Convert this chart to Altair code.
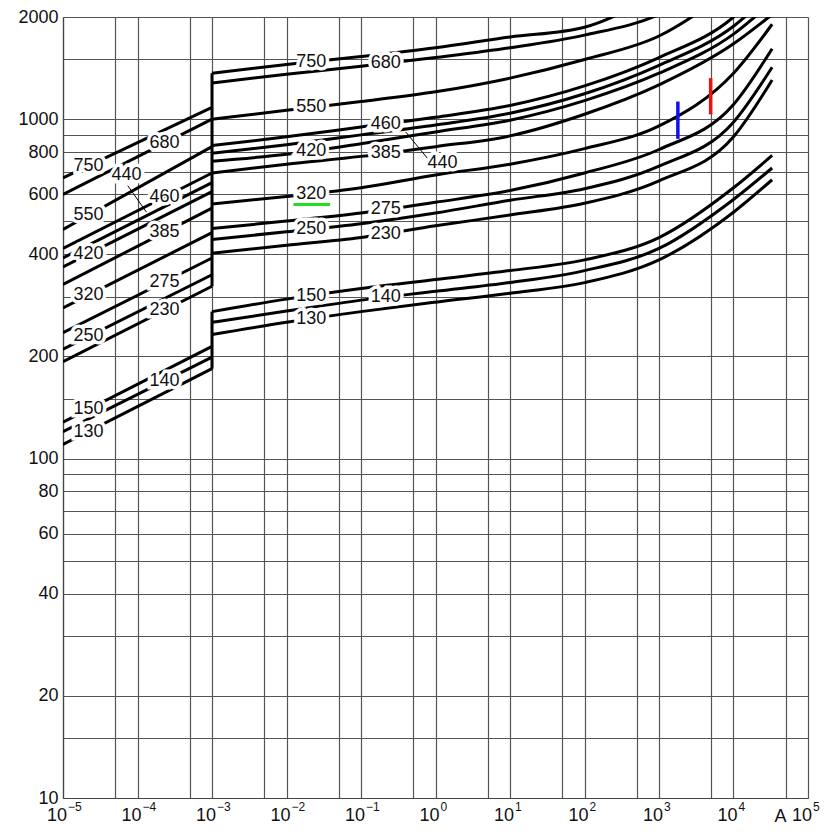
import json
import altair as alt
import numpy as np
import pandas as pd

# ---------------- data ----------------
# right-hand branch (current in A, voltage in V) sampled on a common current grid
X_RIGHT = [1e-3, 1e-2, 1e-1, 1, 10, 100, 1000, 1e4, 3.3e4]
R750 = [1366, 1450, 1529, 1623, 1746, 1866, 2370]
R680 = [1278, 1357, 1431, 1519, 1623, 1769, 2034, 2797]
R550 = [1000, 1062, 1127, 1204, 1321, 1499, 1758, 2449]
R460 = [836, 887, 948, 1013, 1097, 1253, 1519, 2000, 2618]
R440 = [793, 841, 899, 961, 1041, 1188, 1441, 1879, 2370]
R420 = [752, 788, 847, 917, 993, 1134, 1366, 1781, 2217]
R385 = [694, 737, 777, 830, 893, 1034, 1262, 1667, 2034]
R320 = [562, 592, 628, 685, 737, 819, 955, 1366, 1904]
R275 = [476, 501, 529, 569, 616, 694, 814, 1105, 1613]
R250 = [442, 466, 492, 529, 577, 624, 727, 980, 1422]
R230 = [403, 425, 448, 485, 522, 565, 658, 887, 1304]
R150 = [271, 295, 317, 337, 358, 385, 448, 628, 782]
R140 = [252, 272, 293, 311, 330, 358, 416, 580, 718]
R130 = [232, 252, 271, 289, 307, 330, 385, 532, 663]

# left-hand (leakage) branch: value at 1e-5 A and at 1e-3 A
X_LEFT = [1e-5, 1e-3]
L750 = [671, 1083]
L680 = [600, 1000]
L550 = [473, 830]
L460 = [416, 694]
L440 = [390, 650]
L420 = [367, 612]
L385 = [326, 547]
L320 = [278, 463]
L275 = [235, 390]
L250 = [210, 348]
L230 = [193, 322]
L150 = [128, 214]
L140 = [120, 199]
L130 = [110, 184]

NAMES = ["750", "680", "550", "460", "440", "420", "385", "320", "275", "250", "230", "150", "140", "130"]
RIGHT = dict(zip(NAMES, [R750, R680, R550, R460, R440, R420, R385, R320, R275, R250, R230, R150, R140, R130]))
LEFT = dict(zip(NAMES, [L750, L680, L550, L460, L440, L420, L385, L320, L275, L250, L230, L150, L140, L130]))
UPPER = NAMES[:11]
LOWER = NAMES[11:]

# label anchor currents
LEFT_LABEL_X = {"750": 2.2e-5, "680": 2.3e-4, "550": 2.2e-5, "460": 2.3e-4, "420": 2.2e-5,
                "385": 2.3e-4, "320": 2.2e-5, "275": 2.3e-4, "250": 2.2e-5, "230": 2.3e-4,
                "150": 2.2e-5, "140": 2.3e-4, "130": 2.2e-5}
RIGHT_LABEL_X = {"750": 0.0215, "680": 0.215, "550": 0.0215, "460": 0.215, "420": 0.0215,
                 "385": 0.215, "320": 0.0215, "275": 0.215, "250": 0.0215, "230": 0.215,
                 "150": 0.0215, "140": 0.215, "130": 0.0215}
# "440" labels sit off the curve with leader lines
LABEL440 = [(7.1e-5, 685), (1.24, 742)]
LEADERS440 = [[(7.4e-5, 637), (1.32e-4, 532)], [(0.398, 917), (0.78, 767)]]

# coloured marks
BLUE_X, BLUE_Y = 1792, [875, 1127]
RED_X, RED_Y = 4936, [1033, 1321]
GREEN_X, GREEN_Y = [0.0124, 0.0386], 561

# axes
X_GRID = [m * 10.0 ** k for k in range(-5, 5) for m in (1, 5)] + [1e5]
X_POWERS = [-5, -4, -3, -2, -1, 0, 1, 2, 3, 4, 5]
X_BASE_TEXT = "10"
X_EXP_TEXT = ["−5", "−4", "−3", "−2", "−1", "0", "1", "2", "3", "4", "5"]
Y_GRID = [10, 15, 20, 30, 40, 50, 60, 70, 80, 90, 100, 150, 200, 300, 400, 500, 600, 700,
          800, 900, 1000, 1500, 2000]
Y_LABELS = [10, 20, 40, 60, 80, 100, 200, 400, 600, 800, 1000, 2000]

# ---------------- tables ----------------
rows = []
for n in NAMES:
    for x, v in zip(X_RIGHT, RIGHT[n]):
        rows.append({"key": n + "R", "x": x, "y": v})
    for x, v in zip(X_LEFT, LEFT[n]):
        rows.append({"key": n + "L", "x": x, "y": v})
curves = pd.DataFrame(rows)


def on_curve(xs, ys, x):
    return float(10 ** np.interp(np.log10(x), np.log10(xs), np.log10(ys)))


lab = []
for n, x in LEFT_LABEL_X.items():
    lab.append({"x": x, "y": on_curve(X_LEFT, LEFT[n], x), "t": n})
for n, x in RIGHT_LABEL_X.items():
    xs = X_RIGHT[:len(RIGHT[n])]
    lab.append({"x": x, "y": on_curve(xs, RIGHT[n], x), "t": n})
for x, y in LABEL440:
    lab.append({"x": x, "y": y, "t": "440"})
labels = pd.DataFrame(lab)

leaders = pd.DataFrame([{"key": i, "x": p[0], "y": p[1]} for i, seg in enumerate(LEADERS440) for p in seg])

jumps = pd.DataFrame([
    {"x": 1e-3, "y": min(LEFT[n][1] for n in UPPER), "y2": max(RIGHT[n][0] for n in UPPER)},
    {"x": 1e-3, "y": min(LEFT[n][1] for n in LOWER), "y2": max(RIGHT[n][0] for n in LOWER)},
])
blue = pd.DataFrame([{"x": BLUE_X, "y": BLUE_Y[0], "y2": BLUE_Y[1]}])
red = pd.DataFrame([{"x": RED_X, "y": RED_Y[0], "y2": RED_Y[1]}])
green = pd.DataFrame([{"x": GREEN_X[0], "x2": GREEN_X[1], "y": GREEN_Y}])
ticklab = pd.DataFrame({"x": [10.0 ** k for k in X_POWERS], "base": X_BASE_TEXT, "t": X_EXP_TEXT})

# ---------------- chart ----------------
FONT = "Liberation Sans"
W = 745
H = 781
y_label_expr = f"indexof({json.dumps(Y_LABELS)}, datum.value) >= 0 ? format(datum.value, 'd') : ''"

x_scale = alt.Scale(type="log", domain=[1e-5, 1e5], nice=False)
y_scale = alt.Scale(type="log", domain=[10, 2000], nice=False)

x_axis = alt.Axis(values=X_GRID, labels=False, title="A", titleX=W - 28, titleY=9,
                  titleAngle=0, titleBaseline="top", titleAlign="center",
                  titleFontWeight="normal", titleFontSize=18, titleFont=FONT, titleColor="#111",
                  ticks=False, tickSize=0, grid=True,
                  gridColor="#555", gridWidth=1.2, domainColor="#444", domainWidth=1.2)
y_axis = alt.Axis(values=Y_GRID, labelExpr=y_label_expr, title=None, labelFont=FONT,
                  labelFontSize=18, labelColor="#111", labelOverlap=False, labelFlush=False,
                  labelPadding=5, ticks=False, tickSize=0, grid=True, gridColor="#555",
                  gridWidth=1.2, domainColor="#444", domainWidth=1.2)


def X(field="x"):
    return alt.X(f"{field}:Q", scale=x_scale, axis=x_axis)


def Y(field="y"):
    return alt.Y(f"{field}:Q", scale=y_scale, axis=y_axis)


lines = alt.Chart(curves).mark_line(color="black", strokeWidth=3, interpolate="monotone",
                                    clip=True).encode(x=X(), y=Y(), detail="key:N")
jump = alt.Chart(jumps).mark_rule(color="black", strokeWidth=3).encode(x=X(), y=Y(), y2="y2:Q")
lead = alt.Chart(leaders).mark_line(color="black", strokeWidth=1).encode(x=X(), y=Y(), detail="key:N")
halo = alt.Chart(labels).mark_text(font=FONT, fontSize=18, fill="white", stroke="white",
                                   strokeWidth=7, baseline="middle").encode(x=X(), y=Y(), text="t:N")
text = alt.Chart(labels).mark_text(font=FONT, fontSize=18, fill="#111",
                                   baseline="middle").encode(x=X(), y=Y(), text="t:N")
base_text = alt.Chart(ticklab).mark_text(font=FONT, fontSize=18, fill="#111", align="right",
                                         baseline="top", dx=4).encode(
    x=X(), y=alt.value(H + 9), text="base:N")
exp_text = alt.Chart(ticklab).mark_text(font=FONT, fontSize=12, fill="#111", align="left",
                                        baseline="top", dx=5).encode(
    x=X(), y=alt.value(H + 4), text="t:N")
blue_m = alt.Chart(blue).mark_rule(color="#1010ee", strokeWidth=3.5).encode(x=X(), y=Y(), y2="y2:Q")
red_m = alt.Chart(red).mark_rule(color="#ee1111", strokeWidth=3.5).encode(x=X(), y=Y(), y2="y2:Q")
green_m = alt.Chart(green).mark_rule(color="#22dd22", strokeWidth=3).encode(x=X(), x2="x2:Q", y=Y())

chart = alt.layer(lines, jump, lead, halo, text, green_m, blue_m, red_m, base_text, exp_text).properties(
    width=W, height=H, autosize="none",
    padding={"left": 55, "top": 9, "right": 12, "bottom": 28},
    background="white",
).configure_view(stroke=None)

chart.save("out.html", embed_options={"renderer": "svg", "actions": False})
